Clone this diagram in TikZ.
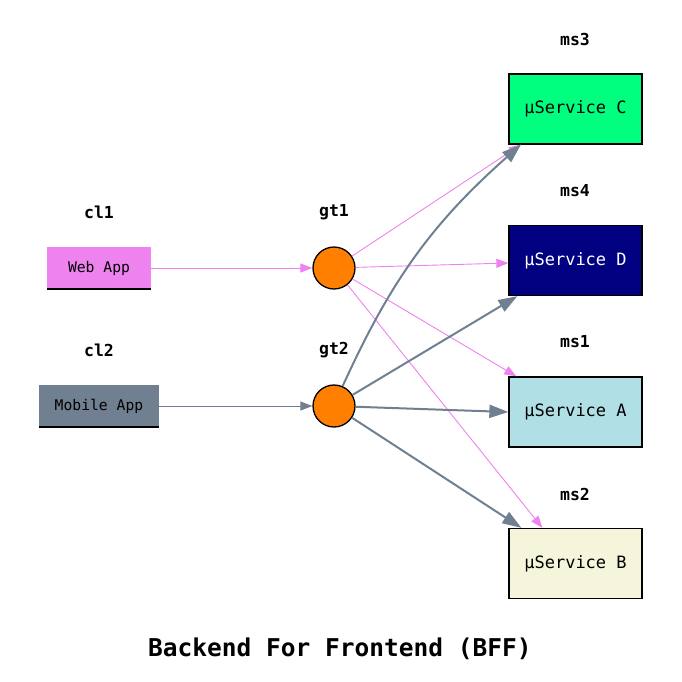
\documentclass[tikz,border=0pt]{standalone}
\usepackage{fontspec}
\setmonofont{DejaVu Sans Mono}
\usetikzlibrary{arrows.meta,calc}
\definecolor{cviolet}{HTML}{EE82EE}
\definecolor{cslate}{HTML}{708090}
\definecolor{cspring}{HTML}{00FF7F}
\definecolor{cnavy}{HTML}{000080}
\definecolor{cpowder}{HTML}{B0E0E6}
\definecolor{cbeige}{HTML}{F5F5DC}
\definecolor{corange}{HTML}{FF8000}
\tikzset{
  lbl/.style={font=\ttfamily\bfseries\fontsize{16.5}{19}\selectfont, inner sep=0pt},
  client/.style={minimum height=42pt, inner sep=0pt, font=\ttfamily\fontsize{14.7}{17}\selectfont},
  gw/.style={circle, draw=black, line width=1.3pt, fill=corange, minimum size=42pt, inner sep=0pt},
  svc/.style={draw=black, line width=1.3pt, minimum width=133pt, minimum height=70pt, inner sep=0pt, font=\ttfamily\fontsize{17}{20}\selectfont},
  vedge/.style={draw=cviolet, line width=0.9pt, -{Triangle[length=12pt,width=9pt]}},
  gedge/.style={draw=cslate, line width=2pt, -{Triangle[length=19pt,width=13pt]}},
}
\begin{document}
\begin{tikzpicture}[x=1pt,y=-1pt]
\useasboundingbox (0,0) rectangle (682,681);
% clients
\node[client, fill=cviolet, minimum width=104pt] (cl1) at (99,268) {Web App};
\draw[black, line width=1.8pt] (cl1.south west) -- (cl1.south east);
\node[client, fill=cslate, minimum width=120pt] (cl2) at (99,406) {Mobile App};
\draw[black, line width=1.8pt] (cl2.south west) -- (cl2.south east);
% gateways
\node[gw] (gt1) at (334,268) {};
\node[gw] (gt2) at (334,406) {};
% services
\node[svc, fill=cspring] (ms3) at (575.5,109) {µService C};
\node[svc, fill=cnavy, text=white] (ms4) at (575.5,260.5) {µService D};
\node[svc, fill=cpowder] (ms1) at (575.5,412) {µService A};
\node[svc, fill=cbeige] (ms2) at (575.5,563.5) {µService B};
% labels
\node[lbl] (lcl1) at (99,212) {cl1};
\node[lbl] (lgt1) at (334,212) {gt1};
\node[lbl] (lcl2) at (99,350) {cl2};
\node[lbl] (lgt2) at (334,350) {gt2};
\node[lbl] (lms3) at (575,39) {ms3};
\node[lbl] (lms4) at (575,191) {ms4};
\node[lbl] (lms1) at (575,342) {ms1};
\node[lbl] (lms2) at (575,494) {ms2};
% anchor points
\coordinate (e3) at ($(ms3.south west)+(12.5,0)$);
\coordinate (e4a) at ($(ms4.west)+(0,2.5)$);
\coordinate (e4b) at ($(ms4.south west)+(9,0)$);
\coordinate (e1a) at ($(ms1.north west)+(8,0)$);
\coordinate (e2a) at ($(ms2.north west)+(34,0)$);
\coordinate (e2b) at ($(ms2.north west)+(13,0)$);
% edges
\draw[vedge] (cl1) -- (gt1);
\draw[draw=cslate, line width=0.9pt, -{Triangle[length=12pt,width=9pt]}] (cl2) -- (gt2);
\draw[vedge] (gt1) -- (e3);
\draw[vedge] (gt1) -- (e4a);
\draw[vedge] (gt1) -- (e1a);
\draw[vedge] (gt1) -- (e2a);
\draw[gedge] (gt2) to[bend left=12] (e3);
\draw[gedge] (gt2) -- (e4b);
\draw[gedge] (gt2) -- (ms1.west);
\draw[gedge] (gt2) -- (e2b);
% title
\node[font=\ttfamily\bfseries\fontsize{24.5}{29}\selectfont, inner sep=0pt] (title) at (340,649) {Backend For Frontend (BFF)};
\end{tikzpicture}
\end{document}
